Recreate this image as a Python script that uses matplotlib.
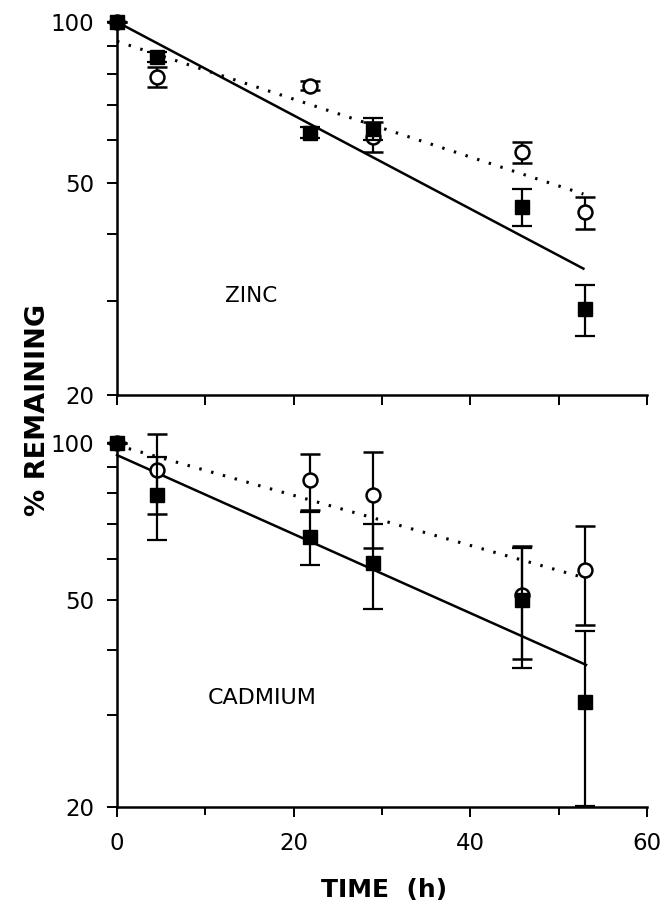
import matplotlib.pyplot as plt
from matplotlib.ticker import FixedLocator, NullFormatter, NullLocator

plt.rcParams['font.family'] = ['DejaVu Sans']

# time points (h)
time_h = [0, 4.5, 21.8, 29.0, 45.9, 53.0]

# ZINC panel
zinc_sq = [100, 86, 62, 63, 45, 29]
zinc_sq_err = [0, 2, 1.5, 3, 3.6, 3.2]
zinc_circ = [100, 79, 76, 61, 57, 44]
zinc_circ_err = [0, 3.5, 1.5, 4, 2.6, 3]
zinc_fit_x = [0, 52.8]
zinc_fit_sq = [100, 34.5]
zinc_fit_circ = [92, 47.6]

# CADMIUM panel
cad_sq = [100, 79.5, 66, 58.9, 50, 31.8]
cad_sq_err = [0, 14.5, 7.6, 10.9, 13, 11.7]
cad_circ = [100, 88.7, 84.9, 79.5, 51, 57]
cad_circ_err = [0, 15.5, 10.5, 16.5, 12.5, 12.3]
cad_fit_x = [0, 53.1]
cad_fit_sq = [94.8, 37.5]
cad_fit_circ = [99, 55]

fig = plt.figure(figsize=(6.67, 9.08), dpi=100)
ax1 = fig.add_axes([0.1754, 0.565, 0.7946, 0.4108])
ax2 = fig.add_axes([0.1754, 0.1112, 0.7946, 0.4009])


def draw(ax, circ, circ_err, sq, sq_err, fx, fsq, fcirc):
    ax.plot(fx, fcirc, color='black', lw=2.2, linestyle=(0, (0.8, 3.2)), clip_on=False)
    ax.plot(fx, fsq, color='black', lw=1.8, clip_on=False)
    ax.errorbar(time_h, circ, yerr=circ_err, fmt='o', ms=10, mfc='white', mec='black',
                mew=1.8, ecolor='black', elinewidth=1.6, capsize=7, capthick=1.6,
                clip_on=False, zorder=3)
    ax.errorbar(time_h, sq, yerr=sq_err, fmt='s', ms=10, mfc='black', mec='black',
                ecolor='black', elinewidth=1.6, capsize=7, capthick=1.6,
                clip_on=False, zorder=4)
    ax.set_yscale('log')
    ax.set_ylim(20, 100)
    ax.set_xlim(0, 60)
    for s in ['top', 'right']:
        ax.spines[s].set_visible(False)
    for s in ['left', 'bottom']:
        ax.spines[s].set_linewidth(1.8)
    ax.yaxis.set_major_locator(FixedLocator([20, 50, 100]))
    ax.yaxis.set_minor_locator(FixedLocator([30, 40, 60, 70, 80, 90]))
    ax.set_yticklabels(['20', '50', '100'])
    ax.yaxis.set_minor_formatter(NullFormatter())
    ax.tick_params(axis='y', which='both', direction='out', length=7.2, width=1.4,
                   labelsize=16.5, pad=9)


draw(ax1, zinc_circ, zinc_circ_err, zinc_sq, zinc_sq_err, zinc_fit_x, zinc_fit_sq, zinc_fit_circ)
draw(ax2, cad_circ, cad_circ_err, cad_sq, cad_sq_err, cad_fit_x, cad_fit_sq, cad_fit_circ)

ax1.set_xticks(range(0, 61, 10))
ax1.set_xticklabels([])
ax1.xaxis.set_minor_locator(NullLocator())
ax1.tick_params(axis='x', direction='out', length=7, width=1.4)

ax2.set_xticks([0, 20, 40, 60])
ax2.xaxis.set_minor_locator(FixedLocator([10, 30, 50]))
ax2.tick_params(axis='x', which='major', direction='out', length=7.2, width=1.4,
                labelsize=16.5, pad=11)
ax2.tick_params(axis='x', which='minor', direction='out', length=5.5, width=1.4)

ax1.text(15.2, 30.7, 'ZINC', fontsize=15.5, ha='center', va='center')
ax2.text(16.4, 32.4, 'CADMIUM', fontsize=16, ha='center', va='center')

fig.text(0.5754 - 0.0, 1 - 890 / 908, 'TIME  (h)', fontsize=18, fontweight='bold',
         ha='center', va='center')
fig.text(0.057, 0.548, '% REMAINING', rotation=90, fontsize=19.5, fontweight='bold',
         ha='center', va='center')

fig.savefig('out.png', dpi=100)
